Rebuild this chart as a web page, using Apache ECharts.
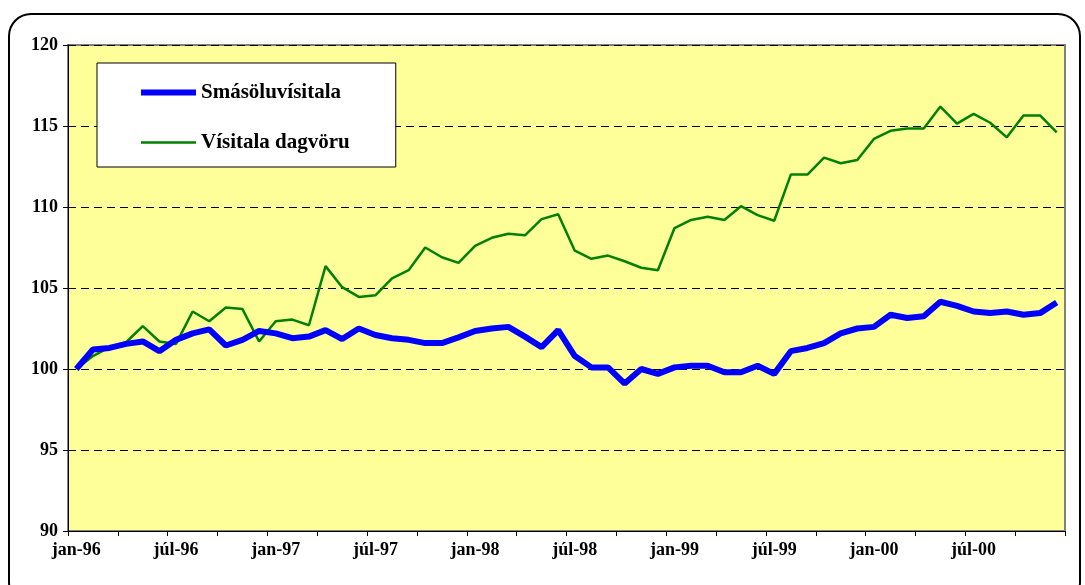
<!DOCTYPE html>
<html>
<head>
<meta charset="utf-8">
<script src="https://cdn.jsdelivr.net/npm/echarts@6/dist/echarts.min.js"></script>
<style>
html,body{margin:0;padding:0;background:#fff;}
#c{width:1085px;height:585px;}
</style>
</head>
<body>
<div id="c"></div>
<script>
var years = ['96','97','98','99','00'];
var monthNames = ['jan','feb','mar','apr','maí','jún','júl','ágú','sep','okt','nóv','des'];
var categories = [];
years.forEach(function(y){ monthNames.forEach(function(m){ categories.push(m + '-' + y); }); });

var yTicks = [90, 95, 100, 105, 110, 115, 120];

var smasoluvisitala = [
  100.0, 101.2, 101.3, 101.55, 101.7, 101.1, 101.8, 102.2, 102.45, 101.45,
  101.8, 102.35, 102.2, 101.9, 102.0, 102.4, 101.85, 102.5, 102.1, 101.9,
  101.8, 101.6, 101.6, 101.95, 102.35, 102.5, 102.6, 102.0, 101.35, 102.4,
  100.8, 100.1, 100.1, 99.1, 100.0, 99.7, 100.1, 100.2, 100.2, 99.8,
  99.8, 100.2, 99.7, 101.1, 101.3, 101.6, 102.2, 102.5, 102.6, 103.35,
  103.15, 103.25, 104.15, 103.9, 103.55, 103.45, 103.55, 103.35, 103.45, 104.1
];
var visitalaDagvoru = [
  100.0, 100.8, 101.35, 101.65, 102.65, 101.7, 101.55, 103.55, 102.95, 103.8,
  103.7, 101.7, 102.95, 103.05, 102.7, 106.35, 105.05, 104.45, 104.55, 105.6,
  106.1, 107.5, 106.9, 106.55, 107.6, 108.1, 108.35, 108.25, 109.25, 109.55,
  107.3, 106.8, 107.0, 106.65, 106.25, 106.1, 108.7, 109.2, 109.4, 109.2,
  110.05, 109.5, 109.15, 112.0, 112.0, 113.05, 112.7, 112.9, 114.2, 114.7,
  114.85, 114.85, 116.2, 115.15, 115.75, 115.2, 114.3, 115.65, 115.65, 114.6
];

var serif = "'Liberation Serif','Times New Roman',serif";
var chart = echarts.init(document.getElementById('c'), null, {renderer:'canvas'});
chart.setOption({
  animation: false,
  backgroundColor: '#ffffff',
  graphic: [{
    type: 'rect',
    shape: {x: 9, y: 14, width: 1071, height: 590, r: 22},
    style: {fill: 'none', stroke: '#000', lineWidth: 2},
    z: -1
  }],
  grid: {
    left: 68, right: 20, top: 45, bottom: 54,
    show: true, backgroundColor: '#FFFF99', borderColor: '#808080', borderWidth: 2
  },
  legend: {
    orient: 'vertical',
    left: 97, top: 63,
    backgroundColor: '#ffffff',
    borderColor: '#000', borderWidth: 1,
    padding: [19, 46, 14, 44],
    itemWidth: 55, itemHeight: 14, itemGap: 29,
    textStyle: {fontFamily: serif, fontWeight: 'bold', fontSize: 21, color: '#000'},
    data: [
      {name: 'Smásöluvísitala', icon: 'path://M0,0 L55,0 L55,6 L0,6 Z', itemStyle: {color: '#0000FF'}},
      {name: 'Vísitala dagvöru', icon: 'path://M0,0 L55,0 L55,2.5 L0,2.5 Z', itemStyle: {color: '#008000'}}
    ]
  },
  xAxis: {
    type: 'category',
    data: categories,
    boundaryGap: true,
    axisLine: {show: true, lineStyle: {color: '#000', width: 1}},
    axisTick: {show: true, interval: 2, length: 5, inside: false, lineStyle: {color: '#000'}},
    axisLabel: {
      interval: 5, margin: 10,
      fontFamily: serif, fontWeight: 'bold', fontSize: 18, color: '#000'
    },
    splitLine: {show: false}
  },
  yAxis: {
    type: 'value',
    min: yTicks[0], max: yTicks[yTicks.length - 1], interval: 5,
    axisLine: {show: true, lineStyle: {color: '#000', width: 1}},
    axisTick: {show: true, length: 5, inside: false, lineStyle: {color: '#000'}},
    axisLabel: {margin: 10, fontFamily: serif, fontWeight: 'bold', fontSize: 18, color: '#000'},
    splitLine: {show: true, lineStyle: {color: '#000', width: 1, type: [8, 5]}}
  },
  series: [
    {
      name: 'Smásöluvísitala', type: 'line', data: smasoluvisitala,
      symbol: 'none', lineStyle: {color: '#0000FF', width: 6},
      itemStyle: {color: '#0000FF'}, z: 3
    },
    {
      name: 'Vísitala dagvöru', type: 'line', data: visitalaDagvoru,
      symbol: 'none', lineStyle: {color: '#008000', width: 2.5},
      itemStyle: {color: '#008000'}, z: 2
    }
  ]
});
</script>
</body>
</html>
